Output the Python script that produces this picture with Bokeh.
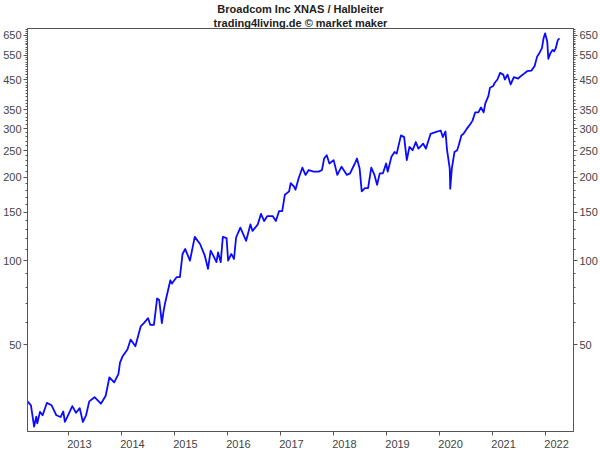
from bokeh.plotting import figure
from bokeh.models import (Range1d, FixedTicker, LogAxis, NumeralTickFormatter,
                          CustomJSTickFormatter, Title, ColumnDataSource)
from bokeh.embed import file_html
from bokeh.resources import INLINE

title_line1 = "Broadcom Inc XNAS / Halbleiter"
title_line2 = "trading4living.de © market maker"

year_labels = list(range(2013, 2023))
y_major = [50, 100, 150, 200, 250, 300, 350, 450, 550, 650]

years = [
    2012.235, 2012.30, 2012.36, 2012.40, 2012.42, 2012.47, 2012.52, 2012.60, 2012.69, 2012.78,
    2012.86, 2012.91, 2012.94, 2013.00, 2013.08, 2013.15, 2013.22, 2013.28, 2013.34, 2013.40,
    2013.50, 2013.62, 2013.71, 2013.78, 2013.87, 2013.95, 2013.98, 2014.03, 2014.12, 2014.18,
    2014.27, 2014.37, 2014.43, 2014.51, 2014.55, 2014.62, 2014.68, 2014.72, 2014.77, 2014.80,
    2014.83, 2014.93, 2014.96, 2015.05, 2015.11, 2015.16, 2015.21, 2015.30, 2015.39, 2015.49,
    2015.58, 2015.64, 2015.69, 2015.74, 2015.80, 2015.83, 2015.88, 2015.92, 2015.99, 2016.02,
    2016.08, 2016.13, 2016.17, 2016.25, 2016.36, 2016.44, 2016.48, 2016.58, 2016.64, 2016.70,
    2016.76, 2016.86, 2016.92, 2016.98, 2017.04, 2017.09, 2017.17, 2017.20, 2017.26, 2017.29,
    2017.35, 2017.42, 2017.48, 2017.54, 2017.63, 2017.73, 2017.79, 2017.83, 2017.88, 2017.93,
    2018.01, 2018.08, 2018.16, 2018.26, 2018.32, 2018.41, 2018.45, 2018.50, 2018.54, 2018.60,
    2018.66, 2018.72, 2018.78, 2018.83, 2018.88, 2018.94, 2019.00, 2019.03, 2019.10, 2019.16,
    2019.20, 2019.28, 2019.34, 2019.39, 2019.44, 2019.50, 2019.56, 2019.61, 2019.70, 2019.75,
    2019.84, 2019.93, 2020.03, 2020.07, 2020.12, 2020.15, 2020.20, 2020.21, 2020.24, 2020.29,
    2020.34, 2020.37, 2020.42, 2020.46, 2020.52, 2020.59, 2020.63, 2020.68, 2020.74, 2020.79,
    2020.84, 2020.87, 2020.93, 2020.96, 2021.02, 2021.05, 2021.10, 2021.15, 2021.21, 2021.24,
    2021.29, 2021.35, 2021.41, 2021.49, 2021.54, 2021.58, 2021.66, 2021.74, 2021.80, 2021.85,
    2021.89, 2021.94, 2021.97, 2022.00, 2022.04, 2022.06, 2022.10, 2022.14, 2022.17, 2022.20,
    2022.24, 2022.27,
]

prices = [
    31.2, 30.2, 25.3, 27.5, 26.0, 28.6, 27.8, 30.8, 30.2, 27.8,
    27.4, 28.7, 26.3, 27.8, 30.0, 28.4, 29.5, 26.3, 27.8, 31.2,
    32.3, 30.6, 32.7, 38.1, 36.5, 39.1, 43.0, 45.4, 48.0, 52.1,
    49.3, 58.1, 59.7, 62.2, 58.9, 58.9, 73.3, 72.3, 59.7, 65.7,
    70.4, 85.2, 82.9, 87.5, 87.5, 106.0, 110.4, 100.3, 122.1, 115.1,
    104.5, 93.7, 108.9, 104.5, 99.0, 107.4, 99.0, 122.1, 120.9, 100.3,
    106.0, 101.7, 121.5, 131.8, 118.2, 135.5, 128.3, 135.5, 147.8, 139.3,
    145.1, 145.1, 139.3, 151.1, 151.1, 173.3, 178.1, 190.6, 185.5, 180.6,
    198.6, 216.8, 204.2, 212.7, 209.8, 209.8, 212.7, 233.9, 240.5, 224.5,
    230.9, 204.2, 218.6, 204.2, 206.9, 224.5, 233.9, 215.5, 178.1, 182.9,
    182.9, 216.8, 204.2, 188.1, 206.9, 206.9, 224.5, 209.8, 237.2, 247.1,
    243.7, 283.4, 279.5, 230.9, 257.5, 250.6, 268.2, 253.9, 264.5, 253.9,
    287.1, 291.2, 295.2, 279.5, 292.8, 250.6, 215.5, 182.0, 215.5, 247.1,
    250.6, 261.1, 283.4, 287.1, 299.1, 311.7, 320.4, 343.0, 343.0, 357.3,
    343.0, 369.2, 393.3, 421.0, 426.9, 438.6, 450.6, 476.0, 469.4, 450.6,
    469.4, 432.5, 459.6, 454.3, 463.3, 469.4, 482.7, 485.1, 502.9, 545.9,
    560.8, 584.3, 634.2, 660.7, 617.3, 535.2, 560.8, 576.2, 568.7, 584.3,
    625.4, 634.2,
]

FONT = "Liberation Sans"
AX = "#555555"
LBL = "#444444"

y_minor = [v for v in [60, 70, 80, 90] + list(range(110, 690, 10)) if v not in y_major]

src = ColumnDataSource(dict(x=years, y=prices))

p = figure(width=600, height=450, y_axis_type="log",
           x_range=Range1d(2012.235, 2022.535), y_range=Range1d(24.3, 688),
           output_backend="svg", toolbar_location=None,
           min_border_left=0, min_border_right=0, min_border_top=0, min_border_bottom=0,
           background_fill_color="white", border_fill_color="white")

p.title.text = title_line1
p.title.align = "center"
p.title.text_font = FONT
p.title.text_font_size = "11px"
p.title.text_font_style = "bold"
p.title.text_color = "#222222"
p.title.standoff = 0
p.title.offset = 0
t2 = Title(text=title_line2, align="center", text_font=FONT, text_font_size="11px",
           text_font_style="bold", text_color="#222222", standoff=0)
p.add_layout(t2, "above")

p.outline_line_color = AX
p.xgrid.visible = False
p.ygrid.visible = False

p.line("x", "y", source=src, line_color="#0a0aff", line_width=1.8, line_join="round")

# x axis: tick marks at year starts (minor), labels just to the right
xt = FixedTicker(ticks=[y + 0.215 for y in year_labels], minor_ticks=year_labels)
xa = p.xaxis[0]
xa.ticker = xt
xa.formatter = CustomJSTickFormatter(code="return Math.floor(tick).toFixed(0);")
xa.major_tick_line_color = None
xa.major_tick_out = 0
xa.major_tick_in = 0
xa.minor_tick_out = 4
xa.minor_tick_in = 0
xa.minor_tick_line_color = AX
xa.axis_line_color = AX
xa.major_label_standoff = 4
xa.major_label_text_font = FONT
xa.major_label_text_font_size = "11px"
xa.major_label_text_color = LBL


def style_y(ax):
    ax.ticker = FixedTicker(ticks=y_major, minor_ticks=y_minor)
    ax.formatter = NumeralTickFormatter(format="0")
    ax.major_tick_out = 4
    ax.major_tick_in = 0
    ax.minor_tick_out = 2
    ax.minor_tick_in = 0
    ax.major_tick_line_color = AX
    ax.minor_tick_line_color = AX
    ax.axis_line_color = AX
    ax.major_label_standoff = 2
    ax.major_label_text_font = FONT
    ax.major_label_text_font_size = "11px"
    ax.major_label_text_color = LBL


style_y(p.yaxis[0])
ry = LogAxis()
style_y(ry)
p.add_layout(ry, "right")

open("out.html", "w").write(file_html(p, INLINE))
